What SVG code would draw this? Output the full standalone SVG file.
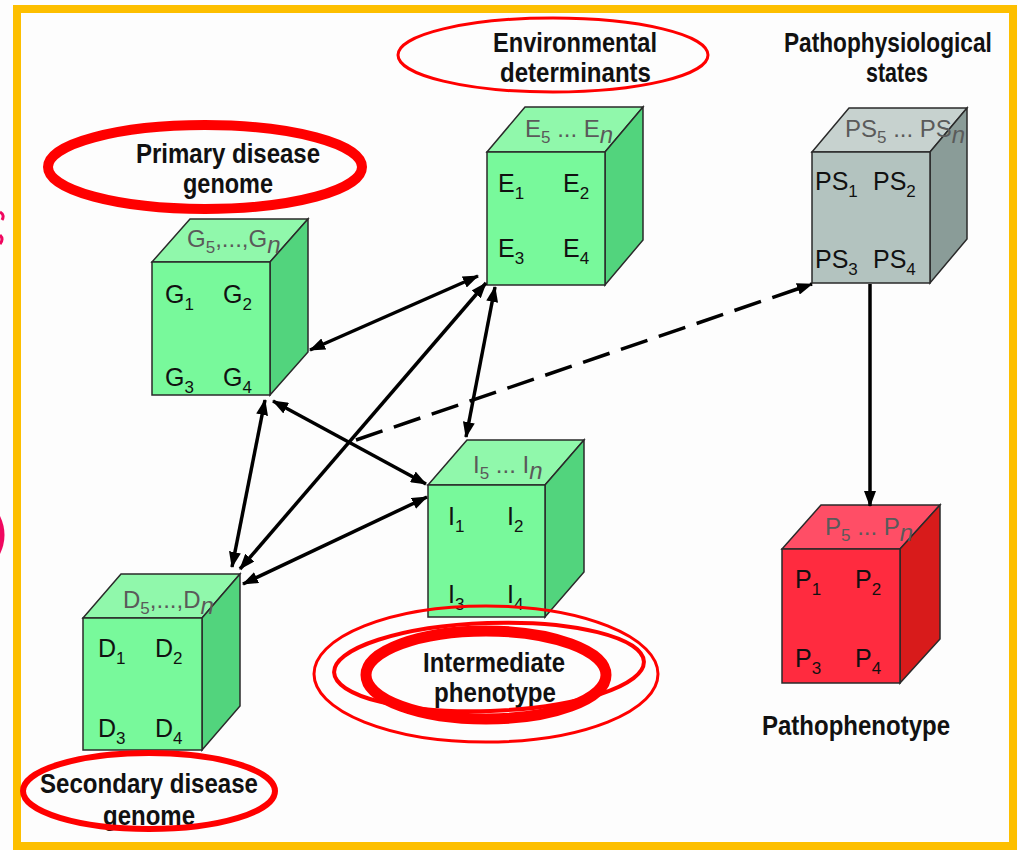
<svg xmlns="http://www.w3.org/2000/svg" width="1018" height="850" viewBox="0 0 1018 850">
<style>
.f{stroke:#2a2a2a;stroke-width:1.5}
.gF{fill:#78f99b}.gT{fill:#90f8ab}.gS{fill:#52d47d}
.sF{fill:#b3c3bf}.sT{fill:#c7d2cf}.sS{fill:#8a9c98}
.rF{fill:#ff2b3f}.rT{fill:#ff4e66}.rS{fill:#d81b1b}
.lbl{font-family:"Liberation Sans",Arial,sans-serif;font-size:25px;fill:#111}
.top{font-family:"Liberation Sans",Arial,sans-serif;font-size:24px;fill:#5a5a5a}
.sub{font-size:17px}
.ttl{font-family:"Liberation Sans",Arial,sans-serif;font-size:27px;font-weight:bold;fill:#111}
.con{stroke:#000;stroke-width:3.5;fill:none}
.ell{fill:none;stroke:#f00}
</style>
<defs>
<marker id="ah" markerUnits="userSpaceOnUse" markerWidth="16" markerHeight="12" refX="15" refY="6" orient="auto-start-reverse">
<path d="M0,0 L16,6 L0,12 z" fill="#000"/>
</marker>
</defs>
<rect x="0" y="0" width="1018" height="850" fill="#fdfdfd"/>
<rect x="17" y="9" width="996" height="837" fill="none" stroke="#fdbf00" stroke-width="8"/>
<g id="pink-marks" fill="none" stroke="#f0075f" stroke-width="3">
<path d="M0,212 Q5,215 2,220"/>
<path d="M0,235 Q4,239 0,244"/>
<path d="M0,516 Q9,535 0,554 Z" fill="#f0075f" stroke="none"/>
</g>

<g id="cube-G">
<polygon class="f gT" points="152,262 190,219 308,219 270,262"/>
<polygon class="f gS" points="270,262 308,219 308,352 270,395"/>
<rect class="f gF" x="152" y="262" width="118" height="133"/>
<text class="top" x="187" y="247">G<tspan class="sub" dy="6">5</tspan><tspan dy="-6">,...,G</tspan><tspan dy="6" font-style="italic">n</tspan></text>
<text class="lbl" x="165" y="303">G<tspan class="sub" dy="7">1</tspan></text>
<text class="lbl" x="223" y="303">G<tspan class="sub" dy="7">2</tspan></text>
<text class="lbl" x="165" y="386">G<tspan class="sub" dy="7">3</tspan></text>
<text class="lbl" x="223" y="386">G<tspan class="sub" dy="7">4</tspan></text>
</g>

<g id="cube-E">
<polygon class="f gT" points="487,152 525,107 643,107 605,152"/>
<polygon class="f gS" points="605,152 643,107 643,240 605,285"/>
<rect class="f gF" x="487" y="152" width="118" height="133"/>
<text class="top" x="525" y="137">E<tspan class="sub" dy="6">5</tspan><tspan dy="-6"> ... E</tspan><tspan dy="6" font-style="italic">n</tspan></text>
<text class="lbl" x="498" y="192">E<tspan class="sub" dy="7">1</tspan></text>
<text class="lbl" x="563" y="192">E<tspan class="sub" dy="7">2</tspan></text>
<text class="lbl" x="498" y="257">E<tspan class="sub" dy="7">3</tspan></text>
<text class="lbl" x="563" y="257">E<tspan class="sub" dy="7">4</tspan></text>
</g>

<g id="cube-PS">
<polygon class="f sT" points="812,152 849,108 967,108 930,152"/>
<polygon class="f sS" points="930,152 967,108 967,239 930,283"/>
<rect class="f sF" x="812" y="152" width="118" height="131"/>
<text class="top" x="845" y="137">PS<tspan class="sub" dy="6">5</tspan><tspan dy="-6"> ... PS</tspan><tspan dy="6" font-style="italic">n</tspan></text>
<text class="lbl" x="815" y="190">PS<tspan class="sub" dy="7">1</tspan></text>
<text class="lbl" x="873" y="190">PS<tspan class="sub" dy="7">2</tspan></text>
<text class="lbl" x="815" y="268">PS<tspan class="sub" dy="7">3</tspan></text>
<text class="lbl" x="873" y="268">PS<tspan class="sub" dy="7">4</tspan></text>
</g>

<g id="cube-I">
<polygon class="f gT" points="428,485 467,440 584,440 545,485"/>
<polygon class="f gS" points="545,485 584,440 584,572 545,617"/>
<rect class="f gF" x="428" y="485" width="117" height="132"/>
<text class="top" x="473" y="473">I<tspan class="sub" dy="6">5</tspan><tspan dy="-6"> ... I</tspan><tspan dy="6" font-style="italic">n</tspan></text>
<text class="lbl" x="448" y="525">I<tspan class="sub" dy="7">1</tspan></text>
<text class="lbl" x="507" y="525">I<tspan class="sub" dy="7">2</tspan></text>
<text class="lbl" x="448" y="603">I<tspan class="sub" dy="7">3</tspan></text>
<text class="lbl" x="507" y="603">I<tspan class="sub" dy="7">4</tspan></text>
</g>

<g id="cube-D">
<polygon class="f gT" points="83,618 121,574 240,574 202,618"/>
<polygon class="f gS" points="202,618 240,574 240,706 202,750"/>
<rect class="f gF" x="83" y="618" width="119" height="132"/>
<text class="top" x="123" y="608">D<tspan class="sub" dy="6">5</tspan><tspan dy="-6">,...,D</tspan><tspan dy="6" font-style="italic">n</tspan></text>
<text class="lbl" x="98" y="657">D<tspan class="sub" dy="7">1</tspan></text>
<text class="lbl" x="155" y="657">D<tspan class="sub" dy="7">2</tspan></text>
<text class="lbl" x="98" y="737">D<tspan class="sub" dy="7">3</tspan></text>
<text class="lbl" x="155" y="737">D<tspan class="sub" dy="7">4</tspan></text>
</g>

<g id="cube-P">
<polygon class="f rT" points="782,549 821,505 940,505 900,549"/>
<polygon class="f rS" points="900,549 940,505 940,639 900,683"/>
<rect class="f rF" x="782" y="549" width="118" height="134"/>
<text class="top" x="825" y="535">P<tspan class="sub" dy="6">5</tspan><tspan dy="-6"> ... P</tspan><tspan dy="6" font-style="italic">n</tspan></text>
<text class="lbl" x="795" y="588">P<tspan class="sub" dy="7">1</tspan></text>
<text class="lbl" x="855" y="588">P<tspan class="sub" dy="7">2</tspan></text>
<text class="lbl" x="795" y="667">P<tspan class="sub" dy="7">3</tspan></text>
<text class="lbl" x="855" y="667">P<tspan class="sub" dy="7">4</tspan></text>
</g>

<g id="connectors">
<line class="con" x1="310" y1="350" x2="478" y2="276" marker-start="url(#ah)" marker-end="url(#ah)"/>
<line class="con" x1="265" y1="400" x2="232" y2="567" marker-start="url(#ah)" marker-end="url(#ah)"/>
<line class="con" x1="273" y1="401" x2="426" y2="484" marker-start="url(#ah)" marker-end="url(#ah)"/>
<line class="con" x1="486" y1="283" x2="240" y2="569" marker-start="url(#ah)" marker-end="url(#ah)"/>
<line class="con" x1="495" y1="287" x2="466" y2="437" marker-start="url(#ah)" marker-end="url(#ah)"/>
<line class="con" x1="243" y1="584" x2="427" y2="497" marker-start="url(#ah)" marker-end="url(#ah)"/>
<line class="con" x1="356" y1="440" x2="812" y2="284" stroke-dasharray="28,12" marker-end="url(#ah)"/>
<line class="con" x1="870" y1="284" x2="870" y2="506" marker-end="url(#ah)"/>
</g>

<g id="labels">
<text class="ttl" x="493" y="52" textLength="164" lengthAdjust="spacingAndGlyphs">Environmental</text>
<text class="ttl" x="500" y="82" textLength="151" lengthAdjust="spacingAndGlyphs">determinants</text>
<text class="ttl" x="0" y="0" transform="translate(784 52) scale(0.84 1)">Pathophysiological</text>
<text class="ttl" x="866" y="82" textLength="62" lengthAdjust="spacingAndGlyphs">states</text>
<text class="ttl" x="136" y="163" textLength="184" lengthAdjust="spacingAndGlyphs">Primary disease</text>
<text class="ttl" x="183" y="193" textLength="90" lengthAdjust="spacingAndGlyphs">genome</text>
<text class="ttl" x="423" y="672" textLength="142" lengthAdjust="spacingAndGlyphs">Intermediate</text>
<text class="ttl" x="434" y="702" textLength="122" lengthAdjust="spacingAndGlyphs">phenotype</text>
<text class="ttl" x="40" y="793" textLength="218" lengthAdjust="spacingAndGlyphs">Secondary disease</text>
<text class="ttl" x="103" y="825" textLength="92" lengthAdjust="spacingAndGlyphs">genome</text>
<text class="ttl" x="762" y="735" textLength="188" lengthAdjust="spacingAndGlyphs">Pathophenotype</text>
</g>

<g id="highlights">
<ellipse class="ell" cx="553" cy="55" rx="155" ry="37" stroke-width="3"/>
<ellipse class="ell" cx="205" cy="167" rx="157" ry="42" stroke-width="10"/>
<ellipse class="ell" cx="486" cy="674" rx="172" ry="68" stroke-width="3"/>
<ellipse class="ell" cx="489" cy="667" rx="155" ry="44" stroke-width="4" transform="rotate(-2 489 667)"/>
<ellipse class="ell" cx="486" cy="675" rx="120" ry="44" stroke-width="11"/>
<ellipse class="ell" cx="149" cy="791" rx="126" ry="38" stroke-width="6"/>
</g>
</svg>
